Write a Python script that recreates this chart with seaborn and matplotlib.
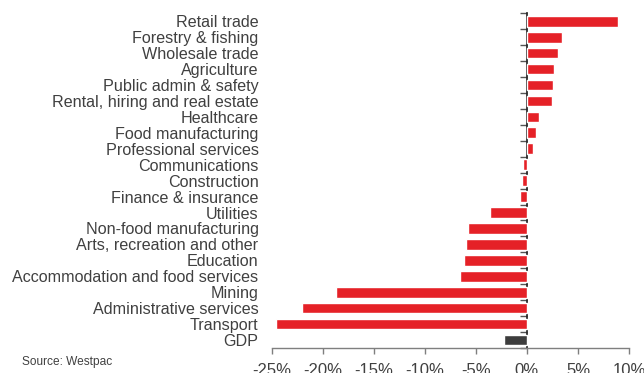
import matplotlib
matplotlib.use("Agg")
import matplotlib.pyplot as plt
import seaborn as sns
import pandas as pd
import numpy as np

sectors = [
    "Retail trade", "Forestry & fishing", "Wholesale trade", "Agriculture",
    "Public admin & safety", "Rental, hiring and real estate", "Healthcare",
    "Food manufacturing", "Professional services", "Communications",
    "Construction", "Finance & insurance", "Utilities",
    "Non-food manufacturing", "Arts, recreation and other", "Education",
    "Accommodation and food services", "Mining", "Administrative services",
    "Transport", "GDP",
]
change_pct = [
    8.9, 3.4, 3.0, 2.65, 2.55, 2.5, 1.15,
    0.85, 0.6, -0.35, -0.5, -0.65, -3.65,
    -5.75, -5.95, -6.2, -6.55, -18.7, -22.0,
    -24.6, -2.2,
]
x_ticks = [-25, -20, -15, -10, -5, 0, 5, 10]

RED = "#e52127"
DARK = "#3d3d3d"
TEXT = "#404040"
AXIS = "#7f7f7f"

sns.set_theme(style="white")
plt.rcParams["font.family"] = ["Liberation Sans", "DejaVu Sans"]

df = pd.DataFrame({"sector": sectors, "change": change_pct})
palette = {s: (DARK if s == "GDP" else RED) for s in sectors}

fig = plt.figure(figsize=(6.44, 3.73), dpi=100)
ax = fig.add_axes([271.7 / 644, 1 - 348 / 373, (629 - 271.7) / 644, (348 - 13.3) / 373])

sns.barplot(data=df, y="sector", x="change", hue="sector", palette=palette,
            order=sectors, orient="h", width=0.67, legend=False, ax=ax,
            saturation=1)

xmin, xmax = x_ticks[0], x_ticks[-1]
ax.set_xlim(xmin, xmax)
ax.set_ylim(len(sectors) - 0.5, -0.5)
ax.set_xlabel("")
ax.set_ylabel("")

# x axis: percentage ticks pointing down
ax.set_xticks(x_ticks)
ax.set_xticklabels([f"{t}%" for t in x_ticks], fontsize=12, color=TEXT)
ax.tick_params(axis="x", direction="out", length=4, width=1, color=AXIS, pad=7,
               bottom=True)

# y axis: labels at the left edge, no ticks there
ax.set_yticks(range(len(sectors)))
ax.set_yticklabels(sectors, fontsize=11.6, color=TEXT)
ax.tick_params(axis="y", length=0, pad=9.5)

for side in ["top", "right", "left"]:
    ax.spines[side].set_visible(False)
ax.spines["bottom"].set_color(AXIS)
ax.spines["bottom"].set_linewidth(1)

# vertical zero line with separator ticks between categories
zero_frac = (0 - xmin) / (xmax - xmin)
sec = ax.secondary_yaxis(zero_frac)
sec.set_yticks(np.arange(len(sectors) + 1) - 0.5)
sec.set_yticklabels([])
sec.yaxis.set_ticks_position("left")
sec.tick_params(axis="y", which="major", direction="out", length=5, width=1,
                color="#555555")
sec.spines["left"].set_color(AXIS)
sec.spines["left"].set_linewidth(1)

fig.text(22 / 644, 1 - 362 / 373, "Source: Westpac", fontsize=8.6,
         color=TEXT, va="center", ha="left")

fig.savefig("out.png", dpi=100)
